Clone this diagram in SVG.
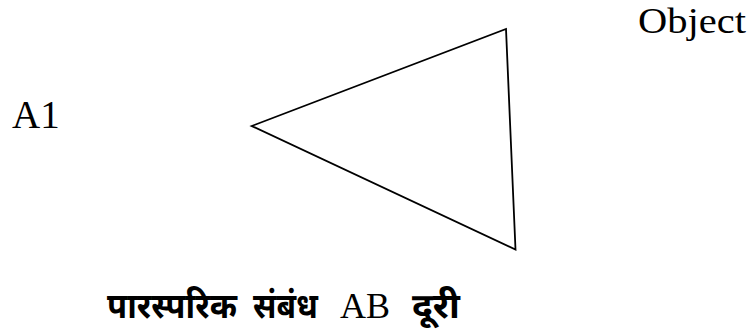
<svg xmlns="http://www.w3.org/2000/svg" width="756" height="335" viewBox="0 0 756 335">
<style>
.lbl{font-family:"Liberation Serif","Times New Roman",serif;fill:#000}
.dev{font-family:"Noto Sans Devanagari","Noto Sans","Liberation Sans",sans-serif;font-weight:bold;font-size:35px}
</style>
<rect width="756" height="335" fill="#fff"/>
<g id="triangle">
<polygon points="251.7,126 506,29 515.5,249.5" fill="none" stroke="#000" stroke-width="1.8" stroke-linejoin="miter"/>
</g>
<g id="object-label"><text class="lbl" x="638" y="33" font-size="36" textLength="108" lengthAdjust="spacingAndGlyphs">Object</text></g>
<g id="a1-label"><text class="lbl" x="12" y="128" font-size="39">A1</text></g>
<g id="bottom-label">
<text class="lbl" y="318" font-size="36"><tspan class="dev" x="107" textLength="130" lengthAdjust="spacingAndGlyphs">पारस्परिक</tspan><tspan class="dev" x="253" textLength="65" lengthAdjust="spacingAndGlyphs">संबंध</tspan><tspan x="340" textLength="50" lengthAdjust="spacingAndGlyphs">AB</tspan><tspan class="dev" x="412" textLength="48" lengthAdjust="spacingAndGlyphs">दूरी</tspan></text>
</g>
</svg>
